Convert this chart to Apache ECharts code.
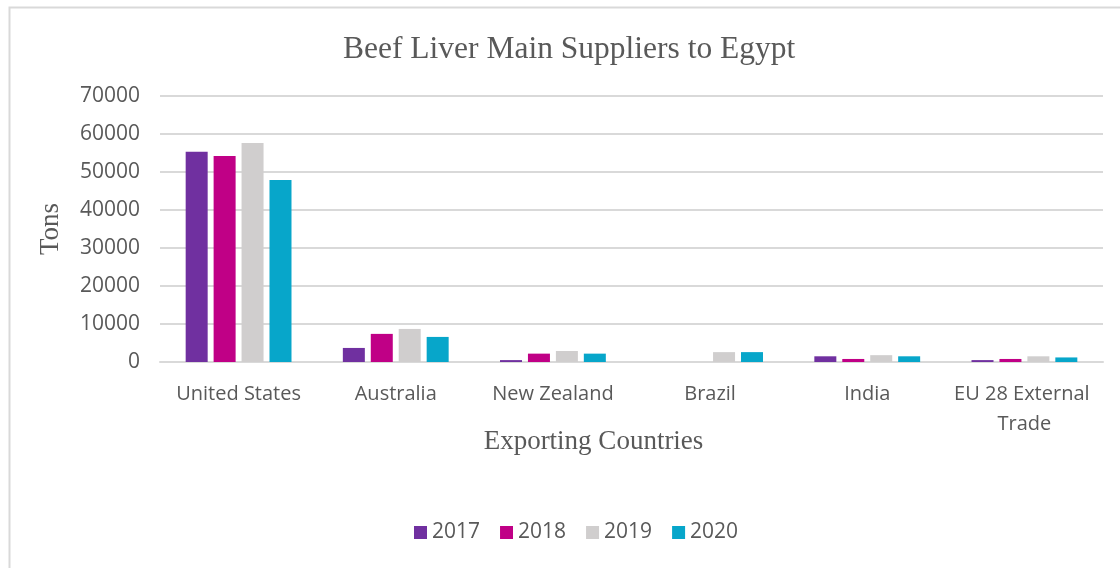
<!DOCTYPE html>
<html>
<head>
<meta charset="utf-8">
<script src="https://cdn.jsdelivr.net/npm/echarts@6/dist/echarts.min.js"></script>
<style>html,body{margin:0;padding:0;background:#fff;}#c{width:1120px;height:568px;}</style>
</head>
<body>
<div id="c"></div>
<script>
const categories = ['United States', 'Australia', 'New Zealand', 'Brazil', 'India', 'EU 28 External Trade'];
const years = ['2017', '2018', '2019', '2020'];
const v2017 = [55300, 3700, 500, 0, 1500, 500];
const v2018 = [54200, 7400, 2200, 0, 800, 800];
const v2019 = [57600, 8700, 2900, 2600, 1800, 1500];
const v2020 = [47900, 6600, 2200, 2600, 1500, 1200];
const colors = ['#7030a0', '#c00086', '#d0cece', '#07a6ca'];
const seriesValues = [v2017, v2018, v2019, v2020];

const chart = echarts.init(document.getElementById('c'));
const labelColor = '#595959';
chart.setOption({
  animation: false,
  graphic: [{
    type: 'rect', left: 7, top: 5,
    shape: { width: 1130, height: 580 },
    style: { fill: 'none', stroke: '#d9d9d9', lineWidth: 2 }
  }],
  title: {
    text: 'Beef Liver Main Suppliers to Egypt',
    left: 338, top: 29,
    textStyle: { fontFamily: 'Liberation Serif', fontWeight: 'normal', fontSize: 31.5, color: labelColor }
  },
  legend: {
    data: years, bottom: 20, left: 409,
    itemWidth: 13, itemHeight: 13, itemGap: 20, icon: 'rect',
    textStyle: { fontFamily: 'Open Sans', fontSize: 21, color: labelColor }
  },
  grid: { left: 160, right: 17, top: 96, bottom: 206, containLabel: false },
  xAxis: {
    type: 'category', data: categories,
    name: 'Exporting Countries', nameLocation: 'middle', nameGap: 66, nameMoveOverlap: false,
    nameTextStyle: { fontFamily: 'Liberation Serif', fontSize: 27, color: labelColor, padding: [0, 76, 0, 0] },
    axisLine: { lineStyle: { color: '#d9d9d9', width: 2 } },
    axisTick: { show: false },
    axisLabel: { color: labelColor, fontFamily: 'Open Sans', fontSize: 20, margin: 17, width: 150, overflow: 'break', lineHeight: 30, interval: 0 }
  },
  yAxis: {
    type: 'value', min: 0, max: 70000, interval: 10000,
    name: 'Tons', nameLocation: 'middle', nameGap: 96, nameMoveOverlap: false,
    nameTextStyle: { fontFamily: 'Liberation Serif', fontSize: 27, color: labelColor },
    axisLine: { show: false }, axisTick: { show: false },
    axisLabel: { color: labelColor, fontFamily: 'Open Sans', fontSize: 21, margin: 20, formatter: v => String(v) },
    splitLine: { lineStyle: { color: '#d9d9d9', width: 2 } }
  },
  series: years.map((y, i) => ({
    name: y, type: 'bar', data: seriesValues[i],
    barWidth: 22, barGap: '27%',
    itemStyle: { color: colors[i] }
  }))
});
</script>
</body>
</html>
